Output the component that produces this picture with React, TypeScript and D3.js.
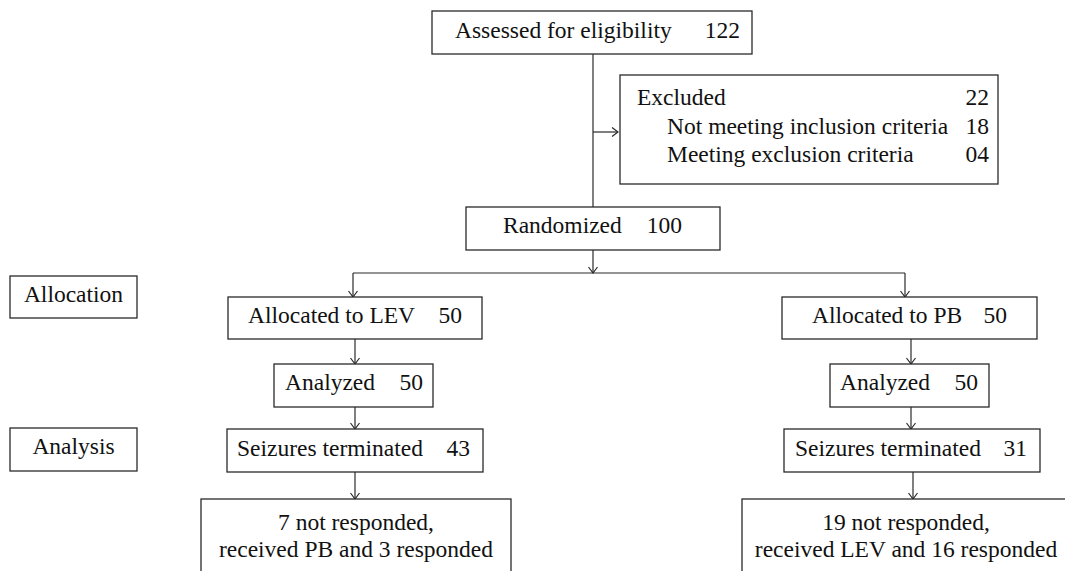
import React from 'react';
import * as d3 from 'd3';

// Flow counts
const stageLabels = ['Assessed for eligibility', 'Randomized'];
const stageCounts = [122, 100];

const excludedLabels = ['Excluded', 'Not meeting inclusion criteria', 'Meeting exclusion criteria'];
const excludedCounts = ['22', '18', '04'];

const phaseLabels = ['Allocation', 'Analysis'];

const armNames = ['LEV', 'PB'];
const armAllocated = [50, 50];
const armAnalyzed = [50, 50];
const armTerminated = [43, 31];
const armOutcome = [
  ['7 not responded,', 'received PB and 3 responded'],
  ['19 not responded,', 'received LEV and 16 responded'],
];

const W = 1065;
const H = 571;
const FONT = 'Liberation Serif';
const FS = 23.5;
const STROKE = '#2a2a2a';

// layout for each arm column (left / right)
const armLayout = [
  { alloc: [228, 254], anal: [274, 159], seiz: [227, 256], out: [201, 310], cx: 355, drop: 353, lx: [248, 285, 237], rx: [462, 423, 470], tx: 356 },
  { alloc: [782, 255], anal: [830, 159], seiz: [784, 256], out: [742, 330], cx: 911, drop: 905, lx: [812, 840, 795], rx: [1007, 978, 1027], tx: 906 },
];

const rowY = d3.scaleOrdinal<string, number>()
  .domain(['alloc', 'anal', 'seiz', 'out'])
  .range([297, 364, 429, 499]);
const rowH = 43;

function Box({ x, y, w, h }: { x: number; y: number; w: number; h: number }) {
  return <rect x={x} y={y} width={w} height={h} fill="white" stroke={STROKE} strokeWidth={1.3} />;
}

function T(props: any) {
  return <text fontSize={FS} fill="#111" style={{ fontFamily: FONT }} {...props} />;
}

function ArrowDown({ x, y1, y2 }: { x: number; y1: number; y2: number }) {
  return (
    <g stroke={STROKE} strokeWidth={1.2} fill="none">
      <line x1={x} y1={y1} x2={x} y2={y2} />
      <path d={`M${x - 4.5},${y2 - 6} L${x},${y2} L${x + 4.5},${y2 - 6}`} />
    </g>
  );
}

function LabelCount({ label, count, lx, rx, y }: { label: string; count: string | number; lx: number; rx: number; y: number }) {
  return (
    <g>
      <T x={lx} y={y}>{label}</T>
      <T x={rx} y={y} textAnchor="end">{count}</T>
    </g>
  );
}

export default function App() {
  const topY = 11;
  const excY = 75;
  const randY = 207;
  const splitY = 273;
  const midX = 593;

  return (
    <svg
      width={W}
      height={H}
      viewBox={`0 0 ${W} ${H}`}
      style={{ position: 'absolute', left: 0, top: 0, background: 'white' }}
    >
      {/* trunk */}
      <line x1={midX} y1={topY + 43} x2={midX} y2={randY} stroke={STROKE} strokeWidth={1.2} />
      <g stroke={STROKE} strokeWidth={1.2} fill="none">
        <line x1={midX} y1={132} x2={618} y2={132} />
        <path d={`M612,127.5 L618,132 L612,136.5`} />
      </g>

      {/* assessed */}
      <Box x={432} y={topY} w={320} h={43} />
      <LabelCount label={stageLabels[0]} count={stageCounts[0]} lx={455} rx={740} y={37.5} />

      {/* excluded */}
      <Box x={620} y={excY} w={378} h={109} />
      {excludedLabels.map((l, i) => (
        <LabelCount key={l} label={l} count={excludedCounts[i]} lx={i === 0 ? 637 : 667} rx={989} y={105 + i * 28.5} />
      ))}

      {/* randomized */}
      <Box x={466} y={randY} w={254} h={43} />
      <LabelCount label={stageLabels[1]} count={stageCounts[1]} lx={503} rx={682} y={233} />
      <ArrowDown x={midX} y1={randY + 43} y2={splitY} />
      <line x1={armLayout[0].drop} y1={splitY} x2={armLayout[1].drop} y2={splitY} stroke={STROKE} strokeWidth={1.2} />

      {/* phase labels */}
      {phaseLabels.map((p, i) => (
        <g key={p}>
          <Box x={10} y={i === 0 ? 276 : 428} w={127} h={i === 0 ? 42 : 43} />
          <T x={73.5} y={(i === 0 ? 276 : 428) + 26} textAnchor="middle">{p}</T>
        </g>
      ))}

      {/* arms */}
      {armNames.map((name, i) => {
        const L = armLayout[i];
        const yA = rowY('alloc');
        const yN = rowY('anal');
        const yS = rowY('seiz');
        const yO = rowY('out');
        return (
          <g key={name}>
            <ArrowDown x={L.drop} y1={splitY} y2={yA} />
            <Box x={L.alloc[0]} y={yA} w={L.alloc[1]} h={rowH - 1} />
            <LabelCount label={`Allocated to ${name}`} count={armAllocated[i]} lx={L.lx[0]} rx={L.rx[0]} y={yA + 26} />

            <ArrowDown x={L.cx} y1={yA + rowH - 1} y2={yN} />
            <Box x={L.anal[0]} y={yN} w={L.anal[1]} h={rowH} />
            <LabelCount label="Analyzed" count={armAnalyzed[i]} lx={L.lx[1]} rx={L.rx[1]} y={yN + 25.5} />

            <ArrowDown x={L.cx} y1={yN + rowH} y2={yS} />
            <Box x={L.seiz[0]} y={yS} w={L.seiz[1]} h={rowH} />
            <LabelCount label="Seizures terminated" count={armTerminated[i]} lx={L.lx[2]} rx={L.rx[2]} y={yS + 27} />

            <ArrowDown x={L.cx + (i === 1 ? 2 : 0)} y1={yS + rowH} y2={yO} />
            <Box x={L.out[0]} y={yO} w={L.out[1]} h={H} />
            {armOutcome[i].map((line, j) => (
              <T key={j} x={L.tx} y={yO + 31 + j * 27} textAnchor="middle">{line}</T>
            ))}
          </g>
        );
      })}
    </svg>
  );
}
